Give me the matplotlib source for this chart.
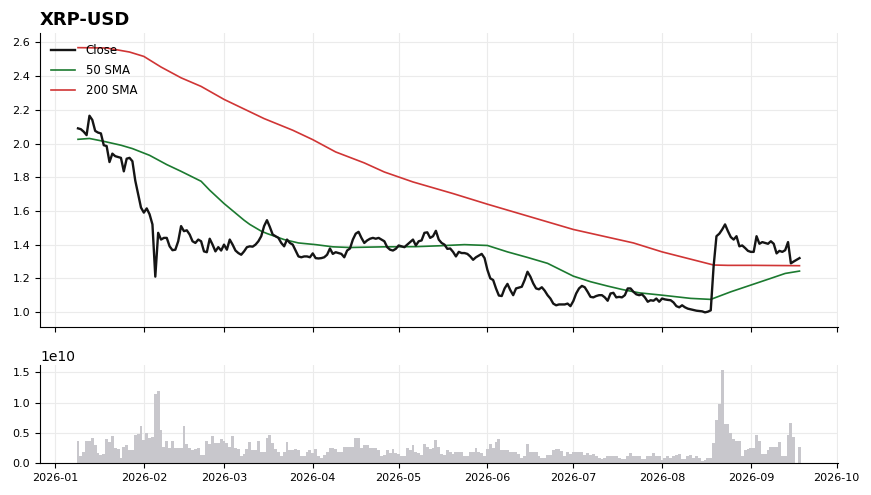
import numpy as np
import pandas as pd
import matplotlib
matplotlib.use("Agg")
import matplotlib.pyplot as plt
import matplotlib.dates as mdates

ticker = "XRP-USD"

# daily closes, 2026-01-09 .. 2026-09-18
close = [
    2.09, 2.085, 2.07, 2.05, 2.165, 2.14, 2.075, 2.065, 2.06, 1.99,
    1.985, 1.89, 1.94, 1.925, 1.92, 1.915, 1.835, 1.91, 1.915, 1.895,
    1.78, 1.70, 1.62, 1.59, 1.615, 1.58, 1.52, 1.21, 1.47, 1.43,
    1.44, 1.44, 1.39, 1.367, 1.37, 1.42, 1.51, 1.48, 1.485, 1.46,
    1.42, 1.41, 1.43, 1.42, 1.36, 1.355, 1.435, 1.40, 1.36, 1.385,
    1.365, 1.40, 1.37, 1.43, 1.40, 1.365, 1.35, 1.34, 1.36, 1.385,
    1.39, 1.388, 1.40, 1.42, 1.45, 1.51, 1.545, 1.505, 1.46, 1.45,
    1.44, 1.41, 1.39, 1.43, 1.41, 1.40, 1.365, 1.33, 1.325, 1.33,
    1.33, 1.325, 1.348, 1.32, 1.318, 1.32, 1.325, 1.34, 1.377, 1.345,
    1.355, 1.35, 1.345, 1.325, 1.365, 1.377, 1.43, 1.465, 1.476, 1.44,
    1.41, 1.425, 1.435, 1.44, 1.435, 1.44, 1.43, 1.42, 1.385, 1.37,
    1.365, 1.375, 1.395, 1.39, 1.385, 1.40, 1.415, 1.43, 1.395, 1.42,
    1.425, 1.47, 1.473, 1.44, 1.45, 1.482, 1.43, 1.41, 1.40, 1.375,
    1.377, 1.357, 1.33, 1.357, 1.35, 1.35, 1.345, 1.33, 1.31, 1.325,
    1.335, 1.345, 1.32, 1.25, 1.20, 1.19, 1.14, 1.098, 1.095, 1.14,
    1.167, 1.13, 1.10, 1.14, 1.145, 1.15, 1.19, 1.239, 1.21, 1.17,
    1.14, 1.135, 1.147, 1.127, 1.10, 1.08, 1.05, 1.04, 1.045, 1.045,
    1.045, 1.05, 1.035, 1.065, 1.11, 1.14, 1.155, 1.147, 1.12, 1.09,
    1.087, 1.095, 1.10, 1.10, 1.087, 1.067, 1.11, 1.114, 1.087, 1.09,
    1.087, 1.10, 1.14, 1.14, 1.12, 1.105, 1.10, 1.105, 1.087, 1.061,
    1.07, 1.067, 1.08, 1.061, 1.08, 1.075, 1.072, 1.07, 1.057, 1.035,
    1.028, 1.04, 1.028, 1.02, 1.016, 1.012, 1.008, 1.006, 1.004, 0.998,
    1.002, 1.01, 1.27, 1.45, 1.465, 1.49, 1.52, 1.48, 1.445, 1.43,
    1.45, 1.39, 1.395, 1.38, 1.363, 1.357, 1.357, 1.45, 1.405, 1.415,
    1.41, 1.405, 1.42, 1.405, 1.348, 1.363, 1.357, 1.367, 1.415, 1.289,
    1.30, 1.31, 1.32,
]

# daily volume in units of 1e10
volume = [
    0.36, 0.12, 0.18, 0.36, 0.37, 0.42, 0.30, 0.16, 0.13, 0.15,
    0.40, 0.34, 0.44, 0.25, 0.23, 0.09, 0.27, 0.29, 0.22, 0.22,
    0.46, 0.48, 0.62, 0.38, 0.49, 0.42, 0.43, 1.14, 1.19, 0.54,
    0.26, 0.37, 0.25, 0.36, 0.25, 0.25, 0.25, 0.61, 0.31, 0.25,
    0.22, 0.23, 0.25, 0.14, 0.14, 0.36, 0.32, 0.44, 0.33, 0.33,
    0.40, 0.36, 0.33, 0.27, 0.44, 0.25, 0.23, 0.11, 0.15, 0.23,
    0.34, 0.22, 0.21, 0.36, 0.18, 0.19, 0.42, 0.47, 0.33, 0.23,
    0.19, 0.12, 0.19, 0.34, 0.21, 0.21, 0.23, 0.22, 0.11, 0.12,
    0.19, 0.21, 0.16, 0.23, 0.12, 0.09, 0.14, 0.19, 0.25, 0.25,
    0.23, 0.18, 0.19, 0.27, 0.27, 0.27, 0.27, 0.42, 0.42, 0.25,
    0.29, 0.29, 0.25, 0.25, 0.25, 0.21, 0.11, 0.14, 0.22, 0.16,
    0.23, 0.16, 0.15, 0.11, 0.11, 0.25, 0.21, 0.29, 0.19, 0.16,
    0.14, 0.31, 0.27, 0.23, 0.25, 0.38, 0.26, 0.15, 0.14, 0.22,
    0.19, 0.15, 0.18, 0.19, 0.19, 0.12, 0.12, 0.18, 0.19, 0.25,
    0.19, 0.16, 0.12, 0.23, 0.31, 0.25, 0.34, 0.40, 0.22, 0.21,
    0.21, 0.19, 0.19, 0.18, 0.15, 0.09, 0.11, 0.31, 0.18, 0.19,
    0.18, 0.12, 0.09, 0.09, 0.14, 0.14, 0.22, 0.23, 0.23, 0.20,
    0.12, 0.18, 0.15, 0.18, 0.18, 0.18, 0.18, 0.14, 0.16, 0.14,
    0.15, 0.11, 0.09, 0.06, 0.08, 0.12, 0.12, 0.12, 0.11, 0.09,
    0.06, 0.06, 0.12, 0.16, 0.11, 0.11, 0.11, 0.07, 0.07, 0.12,
    0.12, 0.16, 0.12, 0.11, 0.05, 0.08, 0.11, 0.09, 0.11, 0.14,
    0.15, 0.07, 0.07, 0.11, 0.14, 0.09, 0.11, 0.09, 0.04, 0.05,
    0.08, 0.08, 0.33, 0.71, 0.98, 1.54, 0.65, 0.64, 0.49, 0.40,
    0.37, 0.37, 0.12, 0.21, 0.23, 0.25, 0.25, 0.47, 0.36, 0.15,
    0.15, 0.22, 0.27, 0.27, 0.26, 0.34, 0.12, 0.12, 0.47, 0.66,
    0.43, 0.0, 0.27,
]

# moving averages
sma50_dates = [
    "2026-01-09", "2026-01-13", "2026-01-18", "2026-01-24", "2026-01-28",
    "2026-02-03", "2026-02-09", "2026-02-14", "2026-02-21", "2026-02-24",
    "2026-03-01", "2026-03-08", "2026-03-10", "2026-03-14", "2026-03-16",
    "2026-03-22", "2026-03-27", "2026-04-02", "2026-04-08", "2026-04-14",
    "2026-04-26", "2026-05-07", "2026-05-15", "2026-05-24", "2026-06-01",
    "2026-06-08", "2026-06-15", "2026-06-22", "2026-07-01", "2026-07-07",
    "2026-07-13", "2026-07-18", "2026-07-24", "2026-08-01", "2026-08-11",
    "2026-08-18", "2026-08-25", "2026-09-01", "2026-09-08", "2026-09-13",
    "2026-09-18",
]
sma50 = [
    2.025, 2.03, 2.013, 1.99, 1.97,
    1.93, 1.875, 1.835, 1.776, 1.723,
    1.644, 1.545, 1.52, 1.48, 1.466,
    1.43, 1.41, 1.40, 1.387, 1.383,
    1.387, 1.388, 1.393, 1.40, 1.395,
    1.357, 1.324, 1.289, 1.213, 1.18,
    1.154, 1.134, 1.114, 1.10, 1.081,
    1.075, 1.12, 1.16, 1.20, 1.229,
    1.243,
]
sma200_dates = [
    "2026-01-09", "2026-01-19", "2026-01-27", "2026-02-01", "2026-02-07",
    "2026-02-14", "2026-02-21", "2026-03-01", "2026-03-15", "2026-03-25",
    "2026-04-01", "2026-04-09", "2026-04-19", "2026-04-26", "2026-05-06",
    "2026-05-20", "2026-06-01", "2026-06-12", "2026-07-01", "2026-07-22",
    "2026-08-01", "2026-08-19", "2026-08-24", "2026-09-02", "2026-09-18",
]
sma200 = [
    2.569, 2.567, 2.543, 2.517, 2.454,
    2.39, 2.339, 2.262, 2.148, 2.079,
    2.023, 1.95, 1.885, 1.831, 1.772,
    1.703, 1.64, 1.585, 1.49, 1.41,
    1.357, 1.279, 1.277, 1.277, 1.275,
]

dates = pd.date_range("2026-01-09", periods=len(close), freq="D")
vol = np.array(volume) * 1e10

fig = plt.figure(figsize=(8.71, 4.95), dpi=100)
ax = fig.add_axes([0.046, 0.339, 0.916, 0.594])
ax2 = fig.add_axes([0.046, 0.0646, 0.916, 0.198], sharex=ax)

grid_kw = dict(color="#ebebeb", linewidth=0.8)

ax.plot(dates, close, color="#151515", linewidth=1.7, label="Close", zorder=3)
ax.plot(pd.to_datetime(sma50_dates), sma50, color="#1c7a30", linewidth=1.2, label="50 SMA", zorder=2)
ax.plot(pd.to_datetime(sma200_dates), sma200, color="#d03535", linewidth=1.2, label="200 SMA", zorder=2)
ax.set_ylim(0.91, 2.655)
ax.set_yticks(np.arange(1.0, 2.61, 0.2))
ax.grid(True, **grid_kw)
ax.set_axisbelow(True)
ax.legend(loc="upper left", frameon=False, fontsize=8.5, handlelength=2.0,
          borderaxespad=0.55, labelspacing=0.58, handletextpad=0.9)
ax.set_title(ticker, loc="left", fontweight="bold", fontsize=13, pad=6)
ax.tick_params(labelbottom=False, labelsize=8)

ax2.bar(dates, vol, width=1.0, color="#c8c7cc", linewidth=0)
ax2.set_ylim(0, 1.62e10)
ax2.set_yticks([0, 0.5e10, 1.0e10, 1.5e10])
ax2.grid(True, **grid_kw)
ax2.set_axisbelow(True)
ax2.tick_params(labelsize=8)
ax2.yaxis.get_offset_text().set_fontsize(10)

ax2.set_xlim(pd.Timestamp("2025-12-26 18:00"), pd.Timestamp("2026-10-01 10:00"))
ax2.xaxis.set_major_locator(mdates.MonthLocator())
ax2.xaxis.set_major_formatter(mdates.DateFormatter("%Y-%m"))

for a in (ax, ax2):
    a.spines["top"].set_visible(False)
    a.spines["right"].set_visible(False)

fig.savefig("out.png", dpi=100)
